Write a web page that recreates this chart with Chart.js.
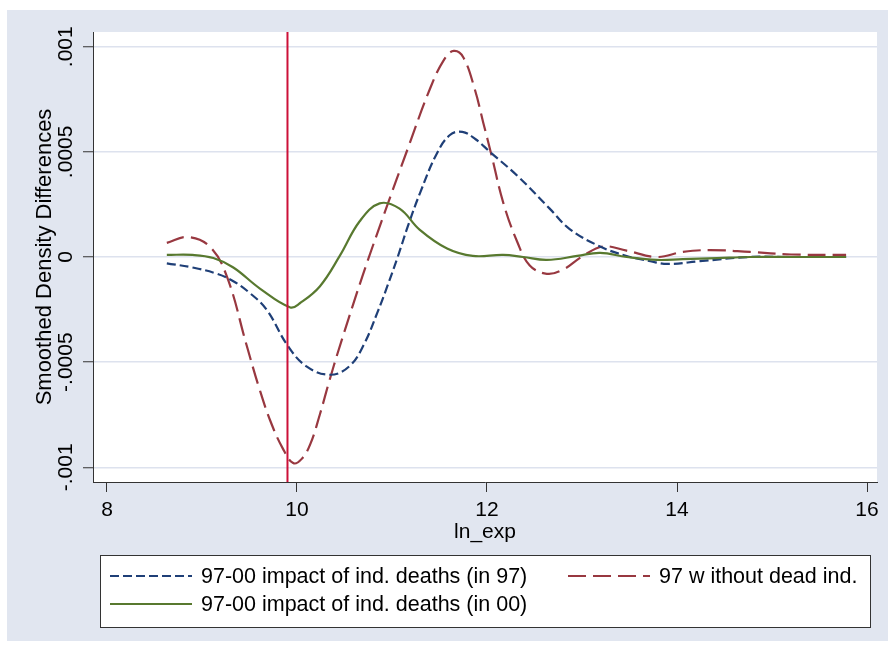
<!DOCTYPE html>
<html>
<head>
<meta charset="utf-8">
<script src="https://cdn.jsdelivr.net/npm/chart.js@4.4.1/dist/chart.umd.min.js"></script>
<style>
  html, body { margin: 0; padding: 0; background: #fff; }
  #wrap { width: 888px; height: 652px; }
</style>
</head>
<body>
<div id="wrap"><canvas id="densityChart"></canvas></div>
<script>
"use strict";

// Values
var xTicks = [8, 10, 12, 14, 16];
var yTicks = [-0.001, -0.0005, 0, 0.0005, 0.001];
var yTickLabels = ["-.001", "-.0005", "0", ".0005", ".001"];
var xRange = [7.853, 16.105];
var yRange = [-0.00107, 0.00107];
var markerX = 9.9;

var impact97X = [8.63, 8.9, 9.16, 9.33, 9.5, 9.68, 9.9, 10.1, 10.35, 10.55, 10.7, 10.85, 10.95,
  11.06, 11.17, 11.3, 11.47, 11.61, 11.74, 11.88, 12.03, 12.32, 12.66, 12.87, 13.19, 13.47,
  13.72, 13.9, 14.24, 14.77, 15.2, 15.78];
var impact97Y = [-0.00003, -0.00005, -0.00008, -0.000115, -0.00017, -0.00025, -0.00042, -0.00052,
  -0.00056, -0.00052, -0.00042, -0.00026, -0.00014, 0, 0.00015, 0.00031, 0.00049, 0.00058,
  0.000595, 0.00056, 0.0005, 0.000386, 0.00023, 0.000133, 0.00005, 0.000005, -0.00002,
  -0.000033, -0.00002, 0, 0, 0];

var withoutDeadX = [8.63, 8.85, 9.08, 9.26, 9.47, 9.6, 9.72, 9.85, 9.96, 10.05, 10.14, 10.24,
  10.34, 10.44, 10.69, 10.93, 11.17, 11.4, 11.55, 11.65, 11.75, 11.87, 11.96, 12.05, 12.17,
  12.32, 12.45, 12.63, 12.8, 13.01, 13.22, 13.47, 13.79, 14.06, 14.35, 14.77, 15.2, 15.78];
var withoutDeadY = [0.000067, 0.000095, 0.00005, -0.00009, -0.00042, -0.00062, -0.00078,
  -0.00091, -0.00098, -0.00096, -0.00089, -0.00075, -0.00059, -0.00044, -0.00009, 0.00022,
  0.00052, 0.0008, 0.00094, 0.00098, 0.00095, 0.0008, 0.00064, 0.00048, 0.00026, 0.00007,
  -0.00004, -0.00008, -0.00006, 0.000005, 0.00005, 0.00003, 0, 0.000024, 0.000033, 0.000024,
  0.000012, 0.00001];

var impact00X = [8.63, 8.9, 9.12, 9.33, 9.61, 9.93, 10.03, 10.24, 10.45, 10.66, 10.87, 11.08,
  11.29, 11.58, 11.85, 12.17, 12.38, 12.63, 12.95, 13.19, 13.47, 13.79, 14.06, 14.42, 14.77,
  15.2, 15.78];
var impact00Y = [0.00001, 0.00001, -0.000005, -0.00005, -0.00015, -0.00024, -0.00022, -0.00014,
  0.000005, 0.00017, 0.000255, 0.00023, 0.00013, 0.00004, 0.000005, 0.00001, 0, -0.000014,
  0.000005, 0.00002, 0, -0.000014, -0.00001, -0.000005, 0, 0, 0];

var seriesLabels = [
  "97-00 impact of ind. deaths (in 97)",
  "97 w ithout dead ind.",
  "97-00 impact of ind. deaths (in 00)"
];

var FONT = "'Liberation Sans', Arial, Helvetica, sans-serif";
var BG = "#e1e6f0";

function toPoints(xs, ys) {
  return xs.map(function(x, i) { return { x: x, y: ys[i] }; });
}

// grey-blue page background and white plot region, like Stata's s2color
var backgroundPlugin = {
  id: "stataBackground",
  beforeDraw: function(chart) {
    var ctx = chart.ctx;
    var a = chart.chartArea;
    ctx.save();
    ctx.fillStyle = BG;
    ctx.fillRect(7, 10, chart.width - 7, 631);
    ctx.fillStyle = "#ffffff";
    ctx.fillRect(a.left, a.top, a.right - a.left, a.bottom - a.top);
    ctx.restore();
  }
};

// boxed two-column legend under the axis title
var legendPlugin = {
  id: "stataLegend",
  afterDraw: function(chart) {
    var ctx = chart.ctx;
    var box = { left: 100, top: 555, right: 870, bottom: 627 };
    var slots = [
      { x: 110, y: 576 },
      { x: 568, y: 576 },
      { x: 110, y: 604 }
    ];
    ctx.save();
    ctx.fillStyle = "#ffffff";
    ctx.fillRect(box.left, box.top, box.right - box.left, box.bottom - box.top);
    ctx.strokeStyle = "#333333";
    ctx.lineWidth = 1;
    ctx.strokeRect(box.left + 0.5, box.top + 0.5, box.right - box.left, box.bottom - box.top);
    ctx.font = "21.5px " + FONT;
    ctx.textBaseline = "middle";
    ctx.fillStyle = "#000000";
    slots.forEach(function(slot, i) {
      var ds = chart.data.datasets[i];
      ctx.beginPath();
      ctx.setLineDash(ds.borderDash || []);
      ctx.strokeStyle = ds.borderColor;
      ctx.lineWidth = ds.borderWidth;
      ctx.moveTo(slot.x, slot.y);
      ctx.lineTo(slot.x + 82, slot.y);
      ctx.stroke();
      ctx.setLineDash([]);
      ctx.fillText(ds.label, slot.x + 91, slot.y + 1);
    });
    ctx.restore();
  }
};

function drawChart(elementId) {
  var canvas = document.getElementById(elementId);
  new Chart(canvas, {
    type: "scatter",
    plugins: [backgroundPlugin, legendPlugin],
    data: {
      datasets: [{
        label: seriesLabels[0],
        data: toPoints(impact97X, impact97Y),
        borderColor: "#1f3f77",
        borderWidth: 2.2,
        borderDash: [9, 4],
        order: 2
      }, {
        label: seriesLabels[1],
        data: toPoints(withoutDeadX, withoutDeadY),
        borderColor: "#983840",
        borderWidth: 2.2,
        borderDash: [18, 7],
        order: 3
      }, {
        label: seriesLabels[2],
        data: toPoints(impact00X, impact00Y),
        borderColor: "#58792f",
        borderWidth: 2.2,
        order: 1
      }, {
        label: "marker",
        data: [{ x: markerX, y: yRange[0] }, { x: markerX, y: yRange[1] }],
        borderColor: "#cc1038",
        borderWidth: 2,
        tension: 0,
        order: 0
      }]
    },
    options: {
      responsive: true,
      maintainAspectRatio: false,
      animation: false,
      devicePixelRatio: 1,
      showLine: true,
      elements: {
        point: { radius: 0, hoverRadius: 0 },
        line: { tension: 0.4, fill: false }
      },
      layout: { padding: { left: 20, right: 11, top: 32, bottom: 107 } },
      plugins: {
        legend: { display: false },
        tooltip: { enabled: false }
      },
      scales: {
        x: {
          type: "linear",
          min: xRange[0],
          max: xRange[1],
          afterBuildTicks: function(scale) {
            scale.ticks = xTicks.map(function(v) { return { value: v }; });
          },
          afterFit: function(scale) { scale.height = 63; },
          grid: {
            drawOnChartArea: false,
            drawTicks: true,
            tickLength: 10,
            tickColor: "#333333",
            tickWidth: 1
          },
          border: { display: true, color: "#333333", width: 1 },
          ticks: {
            color: "#000000",
            font: { family: FONT, size: 21 },
            padding: 6,
            maxRotation: 0,
            callback: function(v) { return String(v); }
          },
          title: {
            display: true,
            text: "ln_exp",
            color: "#000000",
            font: { family: FONT, size: 21 },
            padding: { top: 0, bottom: 0 }
          }
        },
        y: {
          type: "linear",
          min: yRange[0],
          max: yRange[1],
          afterBuildTicks: function(scale) {
            scale.ticks = yTicks.map(function(v) { return { value: v }; });
          },
          afterFit: function(scale) { scale.width = 73; },
          grid: {
            color: "#dde2ee",
            lineWidth: 1.5,
            drawTicks: true,
            tickLength: 10,
            tickColor: "#333333",
            tickWidth: 1
          },
          border: { display: true, color: "#333333", width: 1 },
          ticks: {
            color: "#000000",
            font: { family: FONT, size: 21 },
            minRotation: 90,
            maxRotation: 90,
            crossAlign: "center",
            padding: -13,
            callback: function(v) {
              var i = yTicks.indexOf(v);
              return i >= 0 ? yTickLabels[i] : "";
            }
          },
          title: {
            display: true,
            text: "Smoothed Density Differences",
            color: "#000000",
            font: { family: FONT, size: 22 },
            padding: { top: 12, bottom: 0 }
          }
        }
      }
    }
  });
}

drawChart("densityChart");
</script>
</body>
</html>
